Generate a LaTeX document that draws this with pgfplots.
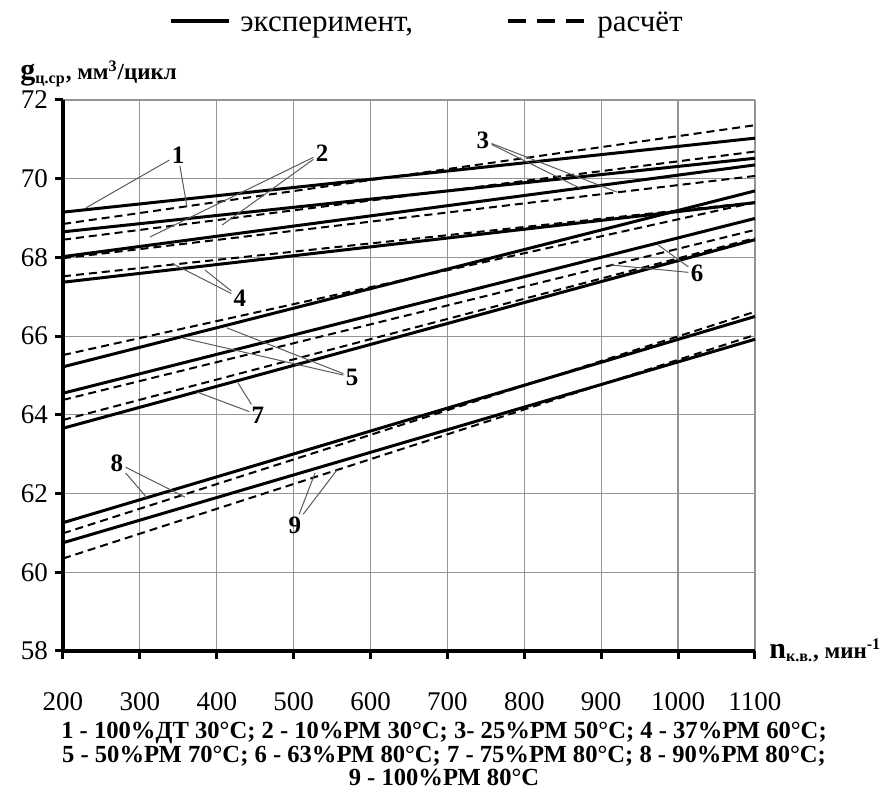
\documentclass[border=0pt]{standalone}
\usepackage{fontspec}
\setmainfont{Liberation Serif}
\usepackage{pgfplots}
\pgfplotsset{compat=1.18}

\tikzset{
  exper/.style={black, line width=1.5pt},
  calc/.style={black, line width=1pt, dash pattern=on 4pt off 2.5pt},
  lead/.style={black!65, line width=0.5pt},
  num/.style={font=\rmfamily\bfseries\fontsize{12.5}{12.5}\selectfont, inner sep=1pt},
}

\begin{document}
\begin{tikzpicture}
\path[use as bounding box] (-31.5pt,-70.5pt) rectangle (412.5pt,325.5pt);
\begin{axis}[
  width=346pt, height=275.5pt, scale only axis,
  xmin=200, xmax=1100, ymin=58, ymax=72,
  xtick={200,300,...,1100}, ytick={58,60,...,72},
  axis x line=bottom, axis y line=left,
  axis line style={-, black, line width=2pt},
  grid=major, grid style={black!42, line width=0.6pt},
  tick align=outside, major tick length=4pt,
  tick style={black, line width=1.5pt},
  tick label style={font=\rmfamily\fontsize{13.5}{13.5}\selectfont},
  /pgf/number format/assume math mode=true,
  /pgf/number format/1000 sep={},
  xticklabel style={yshift=-13pt},
  clip=false,
]
% 1 - 100% DT 30C
\addplot[exper] coordinates {(200,69.15) (1100,71.03)};
\addplot[calc]  coordinates {(200,68.85) (1100,71.36)};
% 2 - 10% RM 30C
\addplot[exper] coordinates {(200,68.65) (1100,70.52)};
\addplot[calc]  coordinates {(200,68.45) (1100,70.69)};
% 3 - 25% RM 50C
\addplot[exper] coordinates {(200,68.02) (1100,70.35)};
\addplot[calc]  coordinates {(200,67.98) (1100,70.07)};
% 4 - 37% RM 60C
\addplot[exper] coordinates {(200,67.37) (1100,69.39)};
\addplot[calc]  coordinates {(200,67.52) (1100,69.40)};
% 5 - 50% RM 70C
\addplot[exper] coordinates {(200,65.22) (1100,69.69)};
\addplot[calc]  coordinates {(200,65.52) (1100,69.40)};
% 6 - 63% RM 80C
\addplot[exper] coordinates {(200,64.55) (1100,68.99)};
\addplot[calc]  coordinates {(200,64.38) (1100,68.70)};
% 7 - 75% RM 80C
\addplot[exper] coordinates {(200,63.66) (1100,68.45)};
\addplot[calc]  coordinates {(200,63.87) (1100,68.49)};
% 8 - 90% RM 80C
\addplot[exper] coordinates {(200,61.26) (1100,66.50)};
\addplot[calc]  coordinates {(200,60.99) (1100,66.62)};
% 9 - 100% RM 80C
\addplot[exper] coordinates {(200,60.75) (1100,65.92)};
\addplot[calc]  coordinates {(200,60.35) (1100,66.03)};

% numbered leaders
\node[num] (n1) at (axis cs:349.6,70.60) {1};
\draw[lead] (n1) -- (axis cs:229.9,69.26);
\draw[lead] (n1) -- (axis cs:361.3,69.28);
\node[num] (n2) at (axis cs:536.9,70.65) {2};
\draw[lead] (n2) -- (axis cs:313.2,68.52);
\draw[lead] (n2) -- (axis cs:406.8,68.82);
\node[num] (n3) at (axis cs:746.2,70.98) {3};
\draw[lead] (n3) -- (axis cs:872.4,69.76);
\draw[lead] (n3) -- (axis cs:920.5,69.66);
\node[num] (n4) at (axis cs:430.2,66.97) {4};
\draw[lead] (n4) -- (axis cs:341.8,67.85);
\draw[lead] (n4) -- (axis cs:384.7,67.68);
\node[num] (n5) at (axis cs:575.9,64.96) {5};
\draw[lead] (n5) -- (axis cs:356.0,65.95);
\draw[lead] (n5) -- (axis cs:413.3,66.21);
\node[num] (n6) at (axis cs:1024.6,67.60) {6};
\draw[lead] (n6) -- (axis cs:973.9,68.32);
\draw[lead] (n6) -- (axis cs:911.4,67.81);
\node[num] (n7) at (axis cs:453.6,64.00) {7};
\draw[lead] (n7) -- (axis cs:374.3,64.58);
\draw[lead] (n7) -- (axis cs:427.6,64.81);
\node[num] (n8) at (axis cs:270.2,62.78) {8};
\draw[lead] (n8) -- (axis cs:309.3,61.89);
\draw[lead] (n8) -- (axis cs:358.7,61.91);
\node[num] (n9) at (axis cs:501.7,61.20) {9};
\draw[lead] (n9) -- (axis cs:527.8,62.52);
\draw[lead] (n9) -- (axis cs:556.4,62.60);
\end{axis}

% legend on top
\draw[black, line width=2pt] (54pt,315pt) -- (83pt,315pt);
\node[anchor=base west, inner sep=0pt, font=\rmfamily\fontsize{15.5}{15.5}\selectfont]
  at (88.5pt,309.5pt) {эксперимент,};
\draw[black, line width=2pt, dash pattern=on 9pt off 5.5pt] (222.5pt,315pt) -- (261pt,315pt);
\node[anchor=base west, inner sep=0pt, font=\rmfamily\fontsize{15.5}{15.5}\selectfont]
  at (267pt,309.5pt) {расчёт};

% axis titles
\node[anchor=base west, inner sep=0pt, font=\rmfamily\bfseries\fontsize{11.5}{11.5}\selectfont]
  at (-21.5pt,285.5pt)
  {{\fontsize{15}{15}\selectfont g}\textsubscript{ц.ср}, мм\textsuperscript{3}/цикл};
\node[anchor=base west, inner sep=0pt, font=\rmfamily\bfseries\fontsize{11.5}{11.5}\selectfont]
  at (353pt,-3.5pt)
  {{\fontsize{15}{15}\selectfont n}\textsubscript{к.в.}, мин\textsuperscript{-1}};

% caption
\node[anchor=north, align=center, inner sep=0pt,
  font=\rmfamily\bfseries\fontsize{12.3}{11.7}\selectfont] at (190.5pt,-35.5pt)
  {1 - 100\%ДТ 30°C; 2 - 10\%РМ 30°C; 3- 25\%РМ 50°C; 4 - 37\%РМ 60°C;\\
   5 - 50\%РМ 70°C; 6 - 63\%РМ 80°C; 7 - 75\%РМ 80°C; 8 - 90\%РМ 80°C;\\
   9 - 100\%РМ 80°C};
\end{tikzpicture}
\end{document}
